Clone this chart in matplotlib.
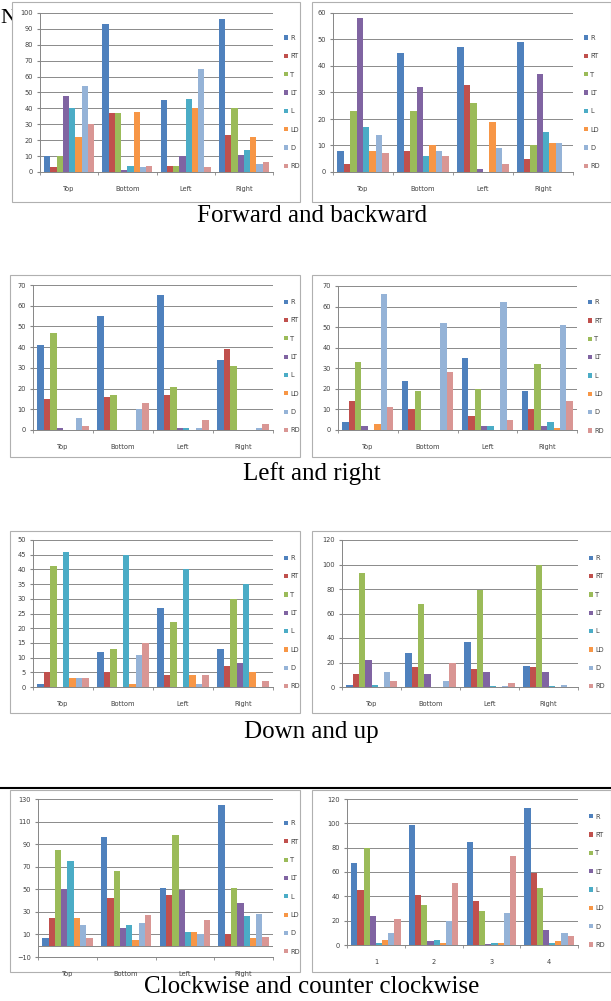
import numpy as np
import matplotlib
matplotlib.use("Agg")
import matplotlib.pyplot as plt
from matplotlib.patches import Rectangle, Patch
from matplotlib.lines import Line2D

# series and colours (Excel 2007 default palette)
series = ["R", "RT", "T", "LT", "L", "LD", "D", "RD"]
colors = ["#4F81BD", "#C0504D", "#9BBB59", "#8064A2", "#4BACC6", "#F79646", "#95B3D7", "#D99694"]
cats = ["Top", "Bottom", "Left", "Right"]
cats_num = ["1", "2", "3", "4"]

# rows = categories, columns = series R..RD
fb_left = [[10, 3, 10, 48, 40, 22, 54, 30],
           [93, 37, 37, 1, 4, 38, 3, 4],
           [45, 4, 4, 10, 46, 40, 65, 3],
           [96, 23, 40, 11, 14, 22, 5, 6]]
fb_right = [[8, 3, 23, 58, 17, 8, 14, 7],
            [45, 8, 23, 32, 6, 10, 8, 6],
            [47, 33, 26, 1, 0, 19, 9, 3],
            [49, 5, 10, 37, 15, 11, 11, 0]]
lr_left = [[41, 15, 47, 1, 0, 0, 6, 2],
           [55, 16, 17, 0, 0, 0, 10, 13],
           [65, 17, 21, 1, 1, 0, 1, 5],
           [34, 39, 31, 0, 0, 0, 1, 3]]
lr_right = [[4, 14, 33, 2, 0, 3, 66, 11],
            [24, 10, 19, 0, 0, 0, 52, 28],
            [35, 7, 20, 2, 2, 0, 62, 5],
            [19, 10, 32, 2, 4, 1, 51, 14]]
du_left = [[1, 5, 41, 0, 46, 3, 3, 3],
           [12, 5, 13, 0, 45, 1, 11, 15],
           [27, 4, 22, 0, 40, 4, 1, 4],
           [13, 7, 30, 8, 35, 5, 0, 2]]
du_right = [[2, 11, 93, 22, 2, 0, 12, 5],
            [28, 16, 68, 11, 0, 0, 5, 20],
            [37, 15, 79, 12, 1, 0, 1, 3],
            [17, 16, 100, 12, 1, 0, 2, 0]]
cw_left = [[7, 25, 85, 50, 75, 25, 18, 7],
           [96, 42, 66, 16, 18, 5, 20, 27],
           [51, 45, 98, 49, 12, 12, 10, 23],
           [125, 10, 51, 38, 26, 7, 28, 8]]
cw_right = [[67, 45, 80, 24, 2, 4, 10, 21],
            [99, 41, 33, 3, 4, 2, 20, 51],
            [85, 36, 28, 1, 2, 2, 26, 73],
            [113, 59, 47, 12, 2, 3, 10, 7]]

captions = ["Forward and backward", "Left and right", "Down and up",
            "Clockwise and counter clockwise"]

W, H = 611, 1001
fig = plt.figure(figsize=(W / 100, H / 100), dpi=100)

def px_axes(x0, y0, x1, y1):
    # pixel box -> figure fraction
    return fig.add_axes([x0 / W, 1 - y1 / H, (x1 - x0) / W, (y1 - y0) / H])

def box(x0, y0, x1, y1):
    fig.patches.append(Rectangle((x0 / W, 1 - y1 / H), (x1 - x0) / W, (y1 - y0) / H,
                                 transform=fig.transFigure, fill=True, fc="white",
                                 ec="#b0b0b0", lw=0.8, zorder=-5))

def panel(rect, data, ymin, ymax, step, labels, zero_axis=False):
    ax = px_axes(*rect)
    data = np.array(data)
    x = np.arange(1, 5)
    w = 0.107
    for i in range(8):
        ax.bar(x + (i - 3.5) * w, data[:, i], w, color=colors[i], zorder=3)
    ax.set_xlim(0.5, 4.5)
    ax.set_ylim(ymin, ymax)
    ax.set_yticks(np.arange(ymin, ymax + 0.1, step))
    ax.yaxis.grid(True, color="#8a8a8a", lw=0.7)
    ax.set_axisbelow(True)
    ax.set_xticks(x)
    ax.set_xticklabels(labels)
    ax.set_xticks([0.5, 1.5, 2.5, 3.5, 4.5], minor=True)
    ax.tick_params(axis="x", which="major", length=0, pad=10)
    ax.tick_params(axis="x", which="minor", length=2, color="#868686")
    ax.tick_params(axis="y", length=2, color="#868686", pad=3)
    ax.tick_params(labelsize=4.8, labelcolor="#404040")
    for s in ["top", "right"]:
        ax.spines[s].set_visible(False)
    for s in ["left", "bottom"]:
        ax.spines[s].set_color("#868686")
        ax.spines[s].set_linewidth(0.7)
    if zero_axis:
        ax.axhline(0, color="#868686", lw=0.7, zorder=2)
    handles = [Patch(facecolor=c, label=s) for c, s in zip(colors, series)]
    ax.legend(handles=handles, loc="center left", bbox_to_anchor=(1.02, 0.44),
              frameon=False, fontsize=4.8, labelspacing=1.85, handlelength=0.6,
              handleheight=0.6, handletextpad=0.4, labelcolor="#404040")
    return ax

# stray letter from the source page, half hidden behind the first chart
fig.text(0, 1 - 23 / H, "N", fontsize=16, family="Liberation Serif", zorder=-10)

# row 1
box(12, 2, 300, 202)
box(312, 2, 611, 202)
panel((40, 13, 273, 172), fb_left, 0, 100, 10, cats)
panel((333, 13, 573, 172), fb_right, 0, 60, 10, cats)
# row 2
box(10, 275, 300, 457)
box(312, 275, 611, 457)
panel((33, 285, 273, 430), lr_left, 0, 70, 10, cats)
panel((338, 286, 577, 430), lr_right, 0, 70, 10, cats)
# row 3
box(10, 531, 300, 713)
box(312, 531, 611, 713)
panel((33, 540, 273, 687), du_left, 0, 50, 5, cats)
panel((342, 540, 578, 687), du_right, 0, 120, 20, cats)
# row 4
box(10, 790, 300, 972)
box(312, 790, 611, 972)
panel((38, 799, 273, 957), cw_left, -10, 130, 20, cats, zero_axis=True)
panel((347, 799, 578, 945), cw_right, 0, 120, 20, cats_num)
fig.add_artist(Line2D([0, 1], [1 - 788 / H] * 2, color="black", lw=1.5,
                      transform=fig.transFigure))

for y, t in zip([216, 474, 732, 987], captions):
    fig.text(0.51, 1 - y / H, t, ha="center", va="center", fontsize=18,
             family="Liberation Serif")

fig.savefig("out.png", dpi=100)
